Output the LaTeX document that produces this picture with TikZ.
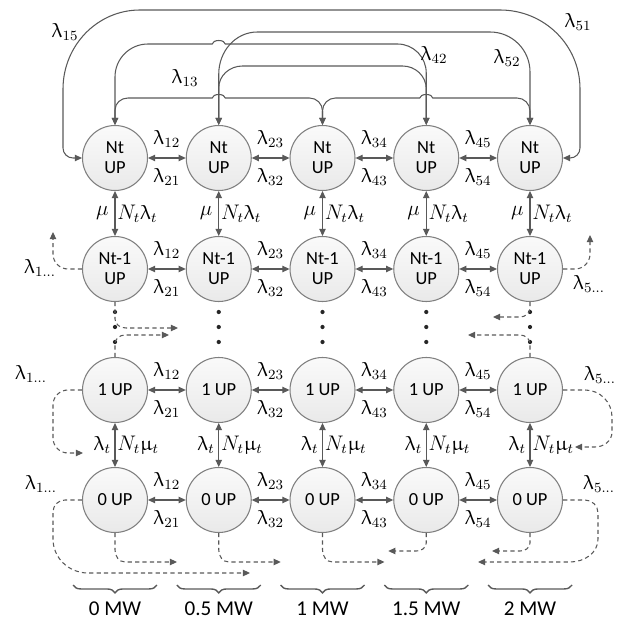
\documentclass[tikz,border=0pt]{standalone}
\usepackage{fontspec}
\usepackage{upgreek}
\newfontfamily\calib{Carlito}
\usetikzlibrary{arrows.meta,decorations.pathreplacing}
\definecolor{wire}{HTML}{595959}
\definecolor{rim}{HTML}{7F7F7F}
\newcommand{\ratefont}{\fontsize{11.5}{13}\selectfont}
\tikzset{>={Triangle[length=4pt,width=3.6pt]},
  state/.style={circle,draw=rim,top color=gray!4,bottom color=gray!17,
    minimum size=1.3cm,inner sep=0pt,align=center,
    font=\calib\fontsize{10.5}{11.5}\selectfont},
  link/.style={<->,draw=wire},
  leak/.style={->,draw=wire,dash pattern=on 2.4pt off 1.8pt},
  rate/.style={font=\ratefont},
  span/.style={draw=wire,line width=.8pt,decorate,
    decoration={brace,mirror,amplitude=4.5pt}},
  mw/.style={font=\calib\fontsize{12}{14}\selectfont}}

\begin{document}
\begin{tikzpicture}[line width=.6pt]
\useasboundingbox (0,0) rectangle (12.42,12.38);
% states, one column per power level
\foreach \i/\x in {1/2.3,2/4.375,3/6.45,4/8.525,5/10.6} {
  \node[state] (nt\i) at (\x,9.22) {Nt\\UP};
  \node[state] (nm\i) at (\x,7.0) {Nt-1\\UP};
  \node[state] (one\i) at (\x,4.58) {1 UP};
  \node[state] (zero\i) at (\x,2.38) {0 UP};
  \foreach \y in {6.14,5.84,5.54} {\fill[black!85] (\x,\y) circle (1.2pt);}
  \draw[link] (nt\i) -- node[rate,left] (mu\i) {$\mu$}
    node[rate,right,inner sep=1pt] (up\i) {$N_t\uplambda_t$} (nm\i);
  \draw[link] (one\i) -- node[rate,left,inner sep=2pt] (la\i) {$\uplambda_t$}
    node[rate,right,inner sep=1pt] (rp\i) {$N_t\upmu_t$} (zero\i);
}
\foreach \r in {nt,nm,one,zero} {
  \foreach \i/\j in {1/2,2/3,3/4,4/5} {
    \draw[link] (\r\i) -- node[rate,above=2.5pt] (\r a\i) {$\uplambda_{\i\j}$}
      node[rate,below=2.5pt] (\r b\i) {$\uplambda_{\j\i}$} (\r\j);
  }
}
% long jumps between the Nt UP states
\draw[link] (nt1.west) -- (1.46,9.22) to[out=180,in=270] (1.26,9.42) -- (1.26,10.6)
  to[out=90,in=180] (2.8,12.18) -- (10.0,12.18) to[out=0,in=90] (11.6,10.6)
  -- (11.6,9.42) to[out=270,in=0] (11.4,9.22) -- (nt5.east);
\draw[link] (nt2.north) -- (4.375,10.9) to[out=90,in=180] (5.15,11.74) -- (9.8,11.74)
  to[out=0,in=90] (10.6,10.94) -- (nt5.north);
\draw[link] (nt1.north) -- (2.3,10.84) to[out=90,in=180] (2.96,11.5) -- (4.245,11.5)
  arc[start angle=180,end angle=0,x radius=.13,y radius=.07] -- (7.95,11.5)
  to[out=0,in=90] (8.525,10.92) -- (nt4.north);
\draw[link] (nt2.north) -- (4.375,10.62) to[out=90,in=180] (4.85,11.06) -- (8.05,11.06)
  to[out=0,in=90] (8.525,10.6) -- (nt4.north);
\draw[link] (nt1.north) -- (2.3,10.18) to[out=90,in=180] (2.56,10.42) -- (4.245,10.42)
  arc[start angle=180,end angle=0,x radius=.13,y radius=.07] -- (6.19,10.42)
  to[out=0,in=90] (6.45,10.16) -- (nt3.north);
\draw[link] (nt3.north) -- (6.45,10.16) to[out=90,in=180] (6.71,10.42) -- (8.395,10.42)
  arc[start angle=180,end angle=0,x radius=.13,y radius=.07] -- (10.34,10.42)
  to[out=0,in=90] (10.6,10.16) -- (nt5.north);
\node[rate] (l15) at (1.30,11.74) {$\uplambda_{15}$};
\node[rate] (l51) at (11.56,11.94) {$\uplambda_{51}$};
\node[rate] (l13) at (3.70,10.82) {$\uplambda_{13}$};
\node[rate] (l42) at (8.68,11.28) {$\uplambda_{42}$};
\node[rate] (l52) at (10.14,11.22) {$\uplambda_{52}$};
% transitions leaving the drawn grid
\coordinate (upL) at (1.06,7.74);
\coordinate (upR) at (11.8,7.68);
\coordinate (dotL1) at (3.56,5.82);
\coordinate (dotL2) at (3.38,5.68);
\coordinate (dotR1) at (9.86,6.04);
\coordinate (dotR2) at (9.36,5.68);
\coordinate (oneL) at (1.66,3.32);
\coordinate (oneR) at (11.5,3.44);
\coordinate (zeroL) at (5.0,0.92);
\coordinate (zeroR) at (9.56,1.14);
\draw[leak] (nm1.west) -- (1.36,7.0) to[out=180,in=270] (1.06,7.3) -- (upL);
\draw[leak] (nm5.east) -- (11.5,7.0) to[out=0,in=270] (11.8,7.3) -- (upR);
\draw[leak] (nm1.south) -- (2.3,6.0) to[out=270,in=180] (2.52,5.82) -- (dotL1);
\draw[leak] (one1.north) -- (2.3,5.5) to[out=90,in=180] (2.5,5.68) -- (dotL2);
\draw[leak] (nm5.south) -- (10.6,6.22) to[out=270,in=0] (10.4,6.04) -- (dotR1);
\draw[leak] (one5.north) -- (10.6,5.5) to[out=90,in=0] (10.4,5.68) -- (dotR2);
\draw[leak] (one1.west) -- (1.36,4.58) to[out=180,in=90] (1.06,4.28) -- (1.06,3.62)
  to[out=270,in=180] (1.36,3.32) -- (oneL);
\draw[leak] (one5.east) -- (11.7,4.58) to[out=0,in=90] (12.24,4.04) -- (12.24,3.74)
  to[out=270,in=0] (11.9,3.44) -- (oneR);
\draw[leak] (zero1.west) -- (1.3,2.38) to[out=180,in=90] (1.06,2.14) -- (1.06,1.6)
  to[out=270,in=180] (1.76,0.92) -- (zeroL);
\draw[leak] (zero5.east) -- (11.7,2.38) to[out=0,in=90] (11.96,2.12) -- (11.96,1.6)
  to[out=270,in=0] (11.4,1.14) -- (zeroR);
\foreach \i/\x in {1/2.3,2/4.375,3/6.45} {
  \coordinate (sink\i) at ({\x+1.24},1.14);
  \draw[leak] (zero\i.south) -- (\x,1.38) to[out=270,in=180] ({\x+0.2},1.14) -- (sink\i);
}
\foreach \i/\x in {4/8.525,5/10.6} {
  \coordinate (sink\i) at ({\x-0.76},1.36);
  \draw[leak] (zero\i.south) -- (\x,1.52) to[out=270,in=0] ({\x-0.2},1.36) -- (sink\i);
}
\node[rate] (ex1a) at (0.8,7.02) {$\uplambda_{1\ldots}$};
\node[rate] (ex1b) at (0.62,4.9) {$\uplambda_{1\ldots}$};
\node[rate] (ex1c) at (0.82,2.7) {$\uplambda_{1\ldots}$};
\node[rate] (ex5a) at (11.78,6.70) {$\uplambda_{5\ldots}$};
\node[rate] (ex5b) at (12.0,4.88) {$\uplambda_{5\ldots}$};
\node[rate] (ex5c) at (11.98,2.7) {$\uplambda_{5\ldots}$};
% power levels
\foreach \i/\x/\t in {1/2.3/0 MW,2/4.375/0.5 MW,3/6.45/1 MW,4/8.525/1.5 MW,5/10.6/2 MW} {
  \draw[span] ({\x-0.84},0.68) -- ({\x+0.84},0.68);
  \node[mw] (mw\i) at (\x,0.2) {\t};
}
\end{tikzpicture}
\end{document}
